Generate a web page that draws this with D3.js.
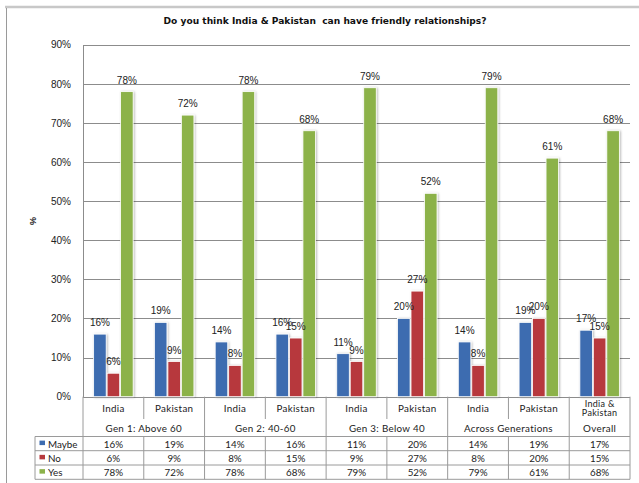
<!DOCTYPE html>
<html>
<head>
<meta charset="utf-8">
<script src="https://cdn.jsdelivr.net/npm/d3@7"></script>
<style>
  html, body { margin: 0; padding: 0; background: #fff; }
  svg { display: block; }
</style>
</head>
<body>
<svg id="chart" width="639" height="483"></svg>
<script>
// Survey answers by generation and country (percent)
const categories = ["India", "Pakistan", "India", "Pakistan", "India", "Pakistan", "India", "Pakistan", "India & Pakistan"];
const groups = [
  { name: "Gen 1: Above 60", span: 2 },
  { name: "Gen 2: 40-60", span: 2 },
  { name: "Gen 3: Below 40", span: 2 },
  { name: "Across Generations", span: 2 },
  { name: "Overall", span: 1 }
];
const seriesNames = ["Maybe", "No", "Yes"];
const maybeValues = [16, 19, 14, 16, 11, 20, 14, 19, 17];
const noValues = [6, 9, 8, 15, 9, 27, 8, 20, 15];
const yesValues = [78, 72, 78, 68, 79, 52, 79, 61, 68];
const yTicks = [0, 10, 20, 30, 40, 50, 60, 70, 80, 90];
const colors = ["#3d6cb0", "#b7393d", "#8cb24a"];

const series = [maybeValues, noValues, yesValues];

const svg = d3.select("#chart");
const plotLeft = 83, plotRight = 630, plotTop = 44.7, plotBottom = 396.7;

// drop shadow for the bars
const defs = svg.append("defs");
const f = defs.append("filter").attr("id", "shadow")
  .attr("x", "-30%").attr("y", "-10%").attr("width", "160%").attr("height", "120%");
f.append("feDropShadow").attr("dx", 1).attr("dy", 0.5).attr("stdDeviation", 1)
  .attr("flood-color", "#000").attr("flood-opacity", 0.28);

// outer frame
svg.append("line").attr("x1", 5).attr("x2", 639).attr("y1", 7).attr("y2", 7)
  .attr("stroke", "#c8c8c8").attr("stroke-width", 2.5);
svg.append("line").attr("x1", 6.5).attr("x2", 6.5).attr("y1", 8).attr("y2", 483)
  .attr("stroke", "#9a9a9a").attr("stroke-width", 1);

// title
svg.append("text")
  .attr("x", 325).attr("y", 24)
  .attr("text-anchor", "middle")
  .attr("font-family", "DejaVu Sans, Verdana, sans-serif")
  .attr("font-weight", "bold")
  .attr("font-size", "9.1px")
  .attr("fill", "#111")
  .attr("xml:space", "preserve")
  .text("Do you think India & Pakistan  can have friendly relationships?");

const x = d3.scaleBand().domain(d3.range(categories.length)).range([plotLeft, plotRight]).padding(0);
const cw = x.bandwidth();
const xs = d3.scaleBand().domain(d3.range(series.length))
  .range([cw * 0.175, cw * 0.825]).paddingInner(0.07);
const y = d3.scaleLinear().domain([0, 90]).range([plotBottom, plotTop]);

// gridlines
svg.append("g").selectAll("line").data(yTicks).join("line")
  .attr("x1", plotLeft).attr("x2", plotRight)
  .attr("y1", d => Math.round(y(d)) + 0.5).attr("y2", d => Math.round(y(d)) + 0.5)
  .attr("stroke", "#8c8c8c").attr("stroke-width", 1);

// y axis
const yAxis = d3.axisLeft(y).tickValues(yTicks).tickSize(0).tickPadding(12)
  .tickFormat(d => d + "%");
const ya = svg.append("g").attr("transform", `translate(${plotLeft},0)`).call(yAxis);
ya.select(".domain").attr("stroke", "#8c8c8c");
ya.selectAll("text")
  .attr("font-family", "Liberation Sans, Arial, sans-serif")
  .attr("font-size", "10px").attr("fill", "#222");

// y axis title
svg.append("text")
  .attr("transform", "translate(33,221) rotate(-90)")
  .attr("text-anchor", "middle")
  .attr("dominant-baseline", "central")
  .attr("font-family", "Liberation Sans, Arial, sans-serif")
  .attr("font-size", "9px").attr("font-weight", "bold").attr("fill", "#222")
  .text("%");

// bars
const barData = [];
series.forEach((vals, s) => vals.forEach((v, i) => barData.push({ s, i, v })));

svg.append("g").selectAll("rect").data(barData).join("rect")
  .attr("x", d => x(d.i) + xs(d.s))
  .attr("width", xs.bandwidth())
  .attr("y", d => y(d.v))
  .attr("height", d => y(0) - y(d.v))
  .attr("fill", d => colors[d.s])
  .attr("stroke", "#fff").attr("stroke-width", 0.8)
  .attr("filter", "url(#shadow)");

// value labels
svg.append("g").selectAll("text").data(barData).join("text")
  .attr("x", d => x(d.i) + xs(d.s) + xs.bandwidth() / 2)
  .attr("y", d => y(d.v) - 8)
  .attr("text-anchor", "middle")
  .attr("font-family", "Liberation Sans, Arial, sans-serif")
  .attr("font-size", "10px").attr("fill", "#222")
  .text(d => d.v + "%");

// data table under the axis
const rowHeader = [plotBottom, 419];
const rowGroup = [419, 436.5];
const rows = [436.5, 450.7, 465, 479.3];
const legendLeft = 35;
const lineColor = "#9a9a9a";
const tfont = "Lato, Open Sans, sans-serif";
const tsize = "9.8px";
const tbl = svg.append("g");

// horizontal rules
rows.forEach(yy => {
  tbl.append("line").attr("x1", legendLeft).attr("x2", plotRight)
    .attr("y1", yy).attr("y2", yy).attr("stroke", lineColor);
});
tbl.append("line").attr("x1", legendLeft).attr("x2", legendLeft)
  .attr("y1", rows[0]).attr("y2", rows[3]).attr("stroke", lineColor);

// vertical rules: group boundaries run full height, inner ones skip the group row
let gi = 0;
const groupEdges = [0];
groups.forEach(g => { gi += g.span; groupEdges.push(gi); });
d3.range(categories.length + 1).forEach(i => {
  const xx = i < categories.length ? x(i) : plotRight;
  const full = groupEdges.includes(i);
  if (full) {
    tbl.append("line").attr("x1", xx).attr("x2", xx)
      .attr("y1", plotBottom).attr("y2", rows[3]).attr("stroke", lineColor);
  } else {
    tbl.append("line").attr("x1", xx).attr("x2", xx)
      .attr("y1", plotBottom).attr("y2", rowHeader[1]).attr("stroke", lineColor);
    tbl.append("line").attr("x1", xx).attr("x2", xx)
      .attr("y1", rows[0]).attr("y2", rows[3]).attr("stroke", lineColor);
  }
});

// category names
categories.forEach((c, i) => {
  const cx = x(i) + cw / 2;
  const parts = c.includes("&") ? ["India &", "Pakistan"] : [c];
  const mid = (rowHeader[0] + rowHeader[1]) / 2;
  parts.forEach((p, k) => {
    tbl.append("text")
      .attr("x", cx)
      .attr("y", mid + (k - (parts.length - 1) / 2) * 9.5)
      .attr("text-anchor", "middle").attr("dominant-baseline", "central")
      .attr("font-family", tfont).attr("font-size", parts.length > 1 ? "9px" : tsize).attr("fill", "#222")
      .attr("letter-spacing", "0.3px")
      .text(p);
  });
});

// group names
let start = 0;
groups.forEach(g => {
  const x0 = x(start);
  const x1 = start + g.span < categories.length ? x(start + g.span) : plotRight;
  tbl.append("text")
    .attr("x", (x0 + x1) / 2).attr("y", (rowGroup[0] + rowGroup[1]) / 2)
    .attr("text-anchor", "middle").attr("dominant-baseline", "central")
    .attr("font-family", tfont).attr("font-size", tsize).attr("fill", "#222")
    .attr("letter-spacing", "0.3px")
    .text(g.name);
  start += g.span;
});

// legend keys and values
seriesNames.forEach((name, s) => {
  const cy = (rows[s] + rows[s + 1]) / 2;
  tbl.append("rect").attr("x", 39.5).attr("y", cy - 3).attr("width", 5.5).attr("height", 4.5)
    .attr("fill", colors[s]);
  tbl.append("text").attr("x", 48).attr("y", cy)
    .attr("dominant-baseline", "central")
    .attr("font-family", tfont).attr("font-size", tsize).attr("fill", "#222")
    .text(name);
  series[s].forEach((v, i) => {
    tbl.append("text")
      .attr("x", x(i) + cw / 2).attr("y", cy)
      .attr("text-anchor", "middle").attr("dominant-baseline", "central")
      .attr("font-family", tfont).attr("font-size", tsize).attr("fill", "#222")
      .text(v + "%");
  });
});
</script>
</body>
</html>
